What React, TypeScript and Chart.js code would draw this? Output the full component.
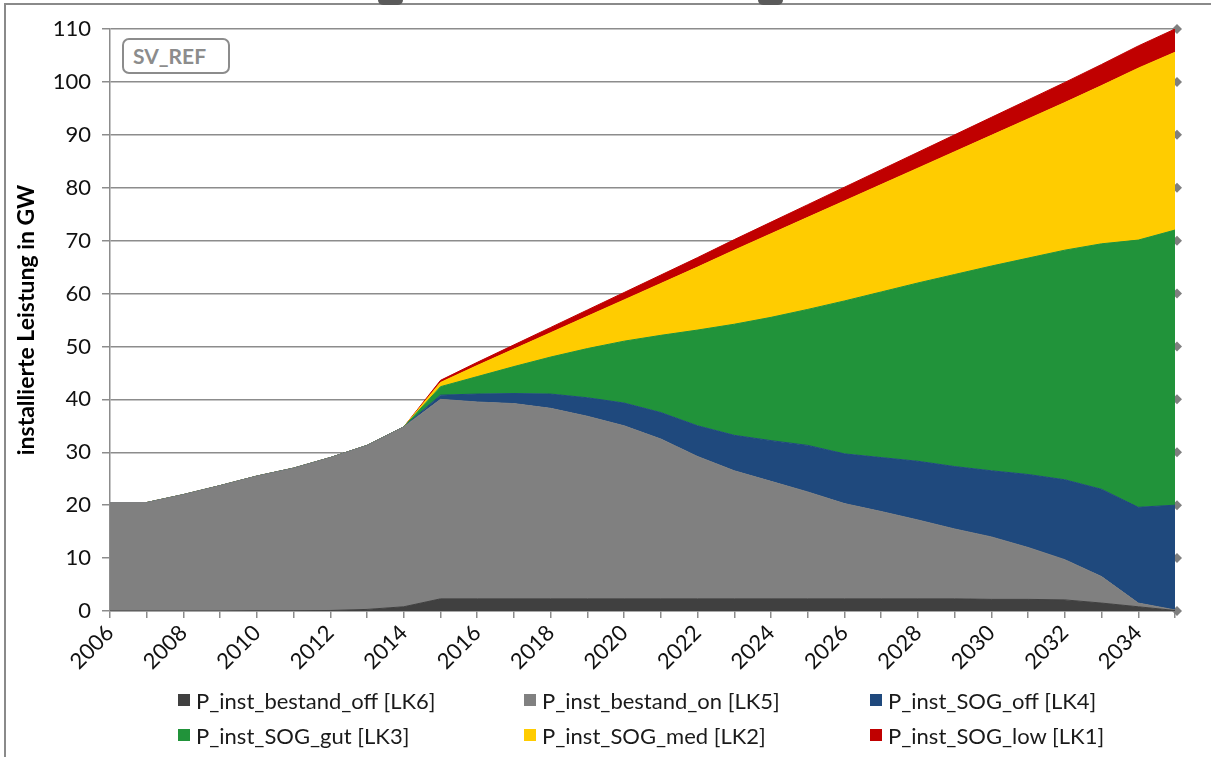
import React, { useEffect, useRef } from 'react';
import { Chart, registerables } from 'chart.js';

Chart.register(...registerables);

const years = [
  '2006', '2007', '2008', '2009', '2010', '2011', '2012', '2013', '2014', '2015',
  '2016', '2017', '2018', '2019', '2020', '2021', '2022', '2023', '2024', '2025',
  '2026', '2027', '2028', '2029', '2030', '2031', '2032', '2033', '2034', '2035',
];

const bestandOff = [0, 0, 0, 0, 0.05, 0.05, 0.1, 0.3, 0.8, 2.3, 2.3, 2.3, 2.3, 2.3, 2.3, 2.3, 2.3, 2.3, 2.3, 2.3, 2.3, 2.3, 2.3, 2.3, 2.2, 2.2, 2.1, 1.5, 0.8, 0.1];
const bestandOn = [20.5, 20.5, 22, 23.7, 25.45, 26.95, 28.9, 31.0, 34.0, 37.7, 37.2, 36.9, 36.0, 34.5, 32.7, 30.2, 26.9, 24.2, 22.2, 20.2, 18.0, 16.5, 14.9, 13.2, 11.8, 9.8, 7.6, 5.0, 0.7, 0.1];
const sogOff = [0, 0, 0, 0, 0, 0, 0, 0, 0, 0.8, 1.5, 1.9, 2.7, 3.5, 4.3, 5.0, 5.8, 6.7, 7.7, 8.8, 9.4, 10.2, 11.1, 11.8, 12.5, 13.8, 15.1, 16.5, 18.1, 19.8];
const sogGut = [0, 0, 0, 0, 0, 0, 0, 0, 0, 1.6, 3.3, 5.1, 7.0, 9.3, 11.7, 14.6, 18.1, 21.0, 23.3, 25.7, 28.9, 31.3, 33.7, 36.3, 38.7, 40.9, 43.4, 46.4, 50.5, 52.0];
const sogMed = [0, 0, 0, 0, 0, 0, 0, 0, 0, 0.8, 2.1, 3.3, 4.6, 6.1, 7.8, 9.8, 11.9, 14.0, 15.8, 17.4, 18.9, 20.3, 21.7, 23.2, 24.7, 26.3, 27.9, 29.9, 32.5, 33.6];
const sogLow = [0, 0, 0, 0, 0, 0, 0, 0, 0, 0.4, 0.6, 0.8, 1.0, 1.2, 1.4, 1.6, 1.8, 2.0, 2.2, 2.4, 2.6, 2.8, 3.0, 3.2, 3.4, 3.6, 3.8, 4.0, 4.2, 4.4];

const seriesNames = [
  'P_inst_bestand_off [LK6]',
  'P_inst_bestand_on [LK5]',
  'P_inst_SOG_off [LK4]',
  'P_inst_SOG_gut [LK3]',
  'P_inst_SOG_med [LK2]',
  'P_inst_SOG_low [LK1]',
];
const seriesColors = ['#404040', '#808080', '#1f497d', '#21933a', '#ffcc00', '#c00000'];
const seriesValues = [bestandOff, bestandOn, sogOff, sogGut, sogMed, sogLow];

const yMin = 0;
const yMax = 110;
const yStep = 10;
const yTitle = 'installierte Leistung in GW';
const boxLabel = 'SV_REF';

const FONT = 'Lato, "Open Sans", sans-serif';
const GRID = '#8c8c8c';

const diamondPlugin = {
  id: 'rightDiamonds',
  beforeDatasetsDraw(chart: any) {
    const { ctx, chartArea, scales } = chart;
    const y = scales.y;
    ctx.save();
    ctx.fillStyle = '#7f7f7f';
    const x = chartArea.right + 2;
    y.ticks.forEach((t: any) => {
      const py = y.getPixelForValue(t.value);
      ctx.beginPath();
      ctx.moveTo(x - 5, py);
      ctx.lineTo(x, py - 5);
      ctx.lineTo(x + 5, py);
      ctx.lineTo(x, py + 5);
      ctx.closePath();
      ctx.fill();
    });
    ctx.restore();
  },
};

export default function App() {
  const canvasRef = useRef<HTMLCanvasElement | null>(null);

  useEffect(() => {
    if (!canvasRef.current) return;
    const chart = new Chart(canvasRef.current, {
      type: 'line',
      data: {
        labels: years,
        datasets: seriesValues.map((vals, i) => ({
          label: seriesNames[i],
          data: vals,
          backgroundColor: seriesColors[i],
          borderColor: seriesColors[i],
          borderWidth: 1,
          pointRadius: 0,
          tension: 0,
          fill: i === 0 ? 'origin' : '-1',
        })),
      },
      options: {
        animation: false,
        responsive: false,
        devicePixelRatio: 1,
        layout: { padding: { left: 0, top: 29, right: 36, bottom: 0 } },
        plugins: {
          legend: { display: false },
          tooltip: { enabled: false },
        },
        scales: {
          x: {
            offset: false,
            grid: { display: true, drawOnChartArea: false, drawTicks: true, tickLength: 7, color: GRID, lineWidth: 1.5 },
            border: { display: true, color: GRID, width: 1.5 },
            ticks: {
              autoSkip: false,
              maxRotation: 45,
              minRotation: 45,
              padding: 2,
              color: '#111',
              font: { family: FONT, size: 22 },
              callback: (_v: any, idx: number) => (idx % 2 === 0 ? years[idx] : ''),
            },
            afterFit: (s: any) => {
              s.height = 146;
              s.paddingLeft = 0;
              s.paddingRight = 0;
            },
          },
          y: {
            stacked: true,
            min: yMin,
            max: yMax,
            ticks: { stepSize: yStep, padding: 11, color: '#111', font: { family: FONT, size: 22 } },
            grid: { color: GRID, lineWidth: 1.5, tickLength: 8, drawTicks: true },
            border: { display: true, color: GRID, width: 1.5 },
            title: {
              display: true,
              text: yTitle,
              color: '#000',
              font: { family: FONT, size: 23, weight: 'bold' },
              padding: { top: 13, bottom: 0 },
            },
            afterFit: (s: any) => {
              s.width = 110;
              s.paddingTop = 0;
              s.paddingBottom = 0;
            },
          },
        },
      } as any,
      plugins: [diamondPlugin],
    });
    return () => chart.destroy();
  }, []);

  return (
    <div style={{ position: 'absolute', left: 0, top: 0, width: 1211, height: 757, background: '#fff', overflow: 'hidden' }}>
      <div style={{ position: 'absolute', left: 4, top: 3, width: 1220, height: 770, borderLeft: '2px solid #8a8a8a', borderTop: '2px solid #8a8a8a' }} />
      <div style={{ position: 'absolute', left: 378, top: 0, width: 25, height: 5, background: '#5a5a5a', borderRadius: '0 0 6px 6px' }} />
      <div style={{ position: 'absolute', left: 758, top: 0, width: 25, height: 5, background: '#5a5a5a', borderRadius: '0 0 6px 6px' }} />
      <canvas ref={canvasRef} width={1211} height={757} style={{ position: 'absolute', left: 0, top: 0, width: 1211, height: 757 }} />
      <div
        style={{
          position: 'absolute', left: 122, top: 38, width: 108, height: 36, boxSizing: 'border-box',
          border: '2px solid #8c8c8c', borderRadius: 7, background: '#fff',
          fontFamily: FONT, fontWeight: 'bold', fontSize: 21, color: '#8c8c8c',
          paddingLeft: 9, lineHeight: '32px',
        }}
      >
        {boxLabel}
      </div>
      <div
        style={{
          position: 'absolute', left: 178, top: 688, display: 'grid',
          gridTemplateColumns: '346px 346px 346px', gridAutoRows: '35px',
          fontFamily: FONT, fontSize: 22, color: '#1a1a1a',
        }}
      >
        {seriesNames.map((n, i) => (
          <div key={n} style={{ display: 'flex', alignItems: 'center', height: 24 }}>
            <span style={{ display: 'inline-block', width: 12, height: 12, background: seriesColors[i], marginRight: 6 }} />
            <span style={{ whiteSpace: 'nowrap' }}>{n}</span>
          </div>
        ))}
      </div>
    </div>
  );
}
